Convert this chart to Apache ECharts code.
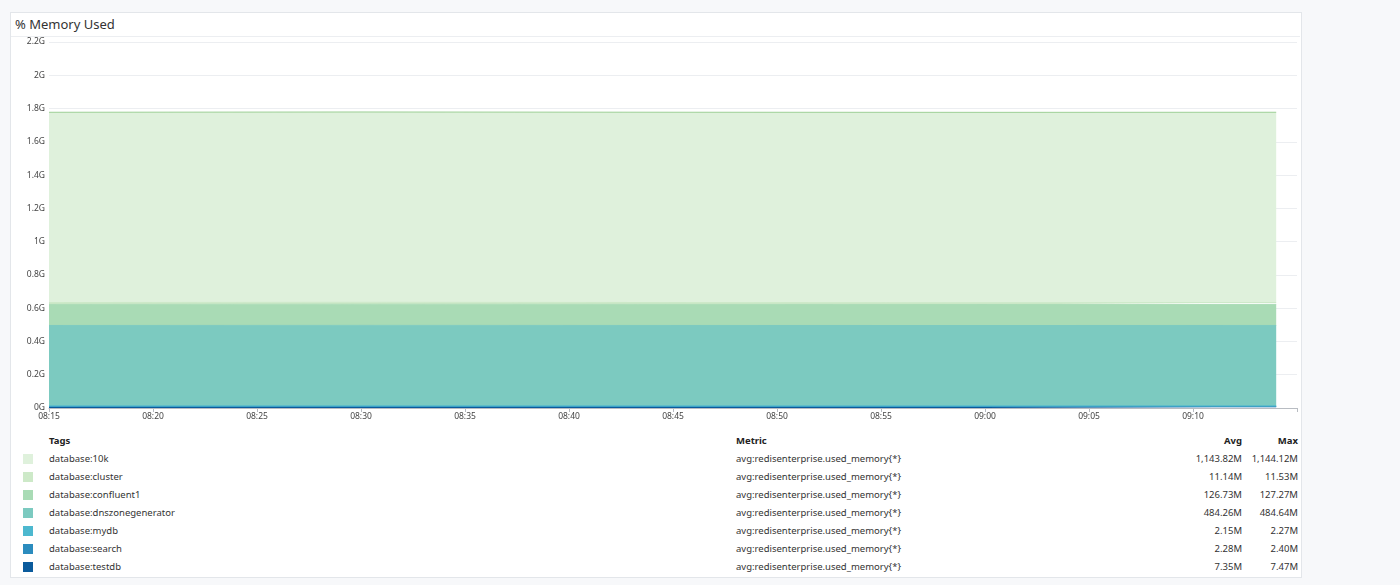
<!DOCTYPE html>
<html>
<head>
<meta charset="utf-8">
<script src="https://cdn.jsdelivr.net/npm/echarts@6/dist/echarts.min.js"></script>
<style>
  body { margin: 0; width: 1400px; height: 585px; background: #f7f8fa; font-family: "Noto Sans", sans-serif; position: relative; overflow: hidden; }
  #card { position: absolute; left: 10px; top: 12px; width: 1290px; height: 564px; background: #fff; border: 1px solid #e3e6ea; }
  #title { position: absolute; left: 15px; top: 15px; font-size: 13px; color: #333; }
  #titleLine { position: absolute; left: 11px; top: 36px; width: 1289px; height: 1px; background: #eceef1; }
  #chart1 { position: absolute; left: 0; top: 0; width: 1400px; height: 430px; }
  table { position: absolute; left: 18px; top: 431px; width: 1280px; border-collapse: collapse; font-size: 9.5px; color: #333; }
  td, th { height: 18px; padding: 0; }
  th { font-weight: bold; text-align: left; color: #222; }
  .sw { width: 31px; }
  .sw span { display: inline-block; width: 10px; height: 10px; margin-left: 5px; vertical-align: middle; }
  .tag { width: 687px; }
  .num { text-align: right; }
</style>
</head>
<body>
<div id="card"></div>
<div id="title">% Memory Used</div>
<div id="titleLine"></div>
<div id="chart1"></div>
<table id="legendTable">
  <thead><tr><th></th><th>Tags</th><th>Metric</th><th class="num" style="width:80px">Avg</th><th class="num" style="width:56px">Max</th></tr></thead>
  <tbody id="tbody"></tbody>
</table>
<script>
// times sampled across the window (minutes after 08:00)
const times = ["08:15", "08:30", "08:45", "09:00", "09:14"];
const tags = ["database:10k", "database:cluster", "database:confluent1", "database:dnszonegenerator", "database:mydb", "database:search", "database:testdb"];
const colors = ["#dff1dc", "#cde9c8", "#a9dbb5", "#7ccac0", "#4db8cf", "#2b8cbe", "#0b5b9c"];
const metric = "avg:redisenterprise.used_memory{*}";
const avgLabels = ["1,143.82M", "11.14M", "126.73M", "484.26M", "2.15M", "2.28M", "7.35M"];
const maxLabels = ["1,144.12M", "11.53M", "127.27M", "484.64M", "2.27M", "2.40M", "7.47M"];
// values in M, per tag
const v10k = [1143.8, 1144.1, 1143.9, 1143.7, 1143.8];
const vCluster = [11.1, 11.5, 11.1, 11.0, 11.1];
const vConfluent1 = [126.7, 127.2, 126.8, 126.6, 126.7];
const vDnszone = [484.3, 484.6, 484.2, 484.1, 484.3];
const vMydb = [2.1, 2.2, 2.1, 2.2, 2.1];
const vSearch = [2.3, 2.4, 2.3, 2.2, 2.3];
const vTestdb = [7.3, 7.4, 7.4, 7.3, 7.4];
const yTicks = [0, 200, 400, 600, 800, 1000, 1200, 1400, 1600, 1800, 2000, 2200];

const seriesValues = [v10k, vCluster, vConfluent1, vDnszone, vMydb, vSearch, vTestdb];

const toTime = (s) => {
  const p = s.split(":");
  return Date.UTC(2024, 0, 1, +p[0], +p[1]);
};

const fillTable = () => {
  let tbody = document.getElementById("tbody");
  for (let i = 0; i < tags.length; i++) {
    let tr = tbody.insertRow();
    let td_sw = tr.insertCell();
    td_sw.className = "sw";
    td_sw.innerHTML = '<span style="background:' + colors[i] + '"></span>';
    let td_tag = tr.insertCell();
    td_tag.className = "tag";
    td_tag.innerText = tags[i];
    tr.insertCell().innerText = metric;
    let td_avg = tr.insertCell();
    td_avg.className = "num";
    td_avg.innerText = avgLabels[i];
    let td_max = tr.insertCell();
    td_max.className = "num";
    td_max.innerText = maxLabels[i];
  }
};

const getOptionChart1 = () => {
  // draw bottom-up: testdb first
  let series = [];
  for (let i = tags.length - 1; i >= 0; i--) {
    series.push({
      name: tags[i],
      type: "line",
      stack: "Total",
      symbol: "none",
      lineStyle: { width: 1, color: i === 0 ? "#9ccf95" : colors[i] },
      itemStyle: { color: colors[i] },
      areaStyle: { color: colors[i], opacity: 1 },
      data: times.map((t, k) => [toTime(t), seriesValues[i][k]]),
    });
  }
  return {
    animation: false,
    textStyle: { fontFamily: "Noto Sans" },
    grid: { left: 49, right: 103, top: 42, height: 366 },
    xAxis: {
      type: "time",
      min: toTime("08:15"),
      max: toTime("09:15"),
      interval: 5 * 60 * 1000,
      axisLine: { lineStyle: { color: "#b8bcc2" } },
      axisTick: { show: true, length: 4, lineStyle: { color: "#b8bcc2" } },
      splitLine: { show: false },
      axisLabel: {
        color: "#444", fontSize: 8.5, margin: 4, hideOverlap: false,
        formatter: (v) => {
          const d = new Date(v);
          if (d.getUTCHours() === 9 && d.getUTCMinutes() === 15) return "";
          return String(d.getUTCHours()).padStart(2, "0") + ":" + String(d.getUTCMinutes()).padStart(2, "0");
        },
      },
    },
    yAxis: {
      type: "value",
      min: yTicks[0],
      max: yTicks[yTicks.length - 1],
      interval: 200,
      axisLine: { show: false },
      axisTick: { show: false },
      splitLine: { lineStyle: { color: "#eceef1" } },
      axisLabel: { color: "#444", fontSize: 8.5, margin: 4, formatter: (v) => v / 1000 + "G" },
    },
    series: series,
  };
};

window.addEventListener("load", () => {
  fillTable();
  const chart1 = echarts.init(document.getElementById("chart1"));
  chart1.setOption(getOptionChart1());
});
</script>
</body>
</html>
